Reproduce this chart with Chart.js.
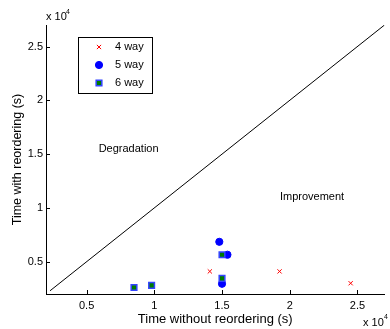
<!DOCTYPE html>
<html>
<head>
<meta charset="utf-8">
<script src="https://cdn.jsdelivr.net/npm/chart.js@4.4.0/dist/chart.umd.min.js"></script>
<style>
  html, body { margin: 0; padding: 0; background: #fff; }
  #wrap { width: 390px; height: 329px; }
</style>
</head>
<body>
<div id="wrap"><canvas id="chart" width="390" height="329"></canvas></div>
<script>
// values (seconds)
const fourWayX = [14100, 19250, 24500];
const fourWayY = [4100, 4100, 3000];
const fiveWayX = [14800, 15400, 15000];
const fiveWayY = [6850, 5650, 2950];
const sixWayX = [8500, 9800, 15000, 15000];
const sixWayY = [2600, 2800, 5650, 3450];
const diagonal = [2300, 27000];
const axisTicks = [5000, 10000, 15000, 20000, 25000];
const axisMin = 2000;
const axisMax = 27000;
const seriesNames = ["4 way", "5 way", "6 way"];

const FONT = "'Liberation Sans', Arial, Helvetica, sans-serif";
Chart.defaults.font.family = FONT;
Chart.defaults.color = "#000";

const toPoints = (xs, ys) => xs.map((x, i) => ({ x, y: ys[i] }));

const styles = [
  { pointStyle: "crossRot", radius: 3, borderColor: "#ff0000", backgroundColor: "#ff0000", borderWidth: 1 },
  { pointStyle: "circle", radius: 3.6, borderColor: "#0000ff", backgroundColor: "#0000ff", borderWidth: 1 },
  { pointStyle: "rect", radius: 4, borderColor: "#3344ff", backgroundColor: "#007a00", borderWidth: 1.5 },
];

const decorations = {
  id: "decorations",
  afterDraw(chart) {
    const { ctx, chartArea: area, scales } = chart;
    const xs = scales.x;
    const ys = scales.y;
    ctx.save();

    // inward tick marks
    ctx.strokeStyle = "#000";
    ctx.lineWidth = 1;
    ctx.beginPath();
    axisTicks.forEach((v) => {
      const px = Math.round(xs.getPixelForValue(v)) + 0.5;
      ctx.moveTo(px, area.bottom);
      ctx.lineTo(px, area.bottom - 4);
      const py = Math.round(ys.getPixelForValue(v)) + 0.5;
      ctx.moveTo(area.left, py);
      ctx.lineTo(area.left + 4, py);
    });
    ctx.stroke();

    // exponent labels
    ctx.fillStyle = "#000";
    ctx.textBaseline = "middle";
    ctx.textAlign = "left";
    ctx.font = "11px " + FONT;
    ctx.fillText("x 10", 46, 17);
    ctx.fillText("x 10", 363, 323);
    ctx.font = "7px " + FONT;
    ctx.fillText("4", 66, 12);
    ctx.fillText("4", 384, 317);

    // region labels
    ctx.font = "11px " + FONT;
    ctx.textAlign = "center";
    ctx.fillText("Degradation", xs.getPixelForValue(8100), ys.getPixelForValue(15450));
    ctx.fillText("Improvement", xs.getPixelForValue(21650), ys.getPixelForValue(11050));

    // legend box
    ctx.fillStyle = "#fff";
    ctx.fillRect(78.5, 37.5, 74, 56);
    ctx.strokeStyle = "#000";
    ctx.lineWidth = 1;
    ctx.strokeRect(78.5, 37.5, 74, 56);
    seriesNames.forEach((name, i) => {
      const y = 47 + i * 18;
      const s = styles[i];
      ctx.fillStyle = s.backgroundColor;
      ctx.strokeStyle = s.borderColor;
      ctx.lineWidth = s.borderWidth;
      Chart.helpers.drawPoint(ctx, { pointStyle: s.pointStyle, radius: s.radius, rotation: 0, borderWidth: s.borderWidth }, 99, y);
      ctx.fillStyle = "#000";
      ctx.textAlign = "left";
      ctx.textBaseline = "middle";
      ctx.font = "11px " + FONT;
      ctx.fillText(name, 115, y);
    });

    ctx.restore();
  },
};

const makeAxis = (titleText, fitSize, isX) => ({
  type: "linear",
  min: axisMin,
  max: axisMax,
  afterBuildTicks: (scale) => {
    scale.ticks = axisTicks.map((v) => ({ value: v }));
  },
  afterFit: (scale) => {
    if (isX) scale.height = fitSize;
    else scale.width = fitSize;
  },
  ticks: {
    callback: (v) => v / 10000,
    color: "#000",
    font: { size: 11 },
    padding: isX ? 5 : 3,
    maxRotation: 0,
    autoSkip: false,
  },
  grid: { display: false, drawTicks: false },
  border: { display: true, color: "#000", width: 1 },
  title: {
    display: true,
    text: titleText,
    color: "#000",
    font: { size: isX ? 13 : 12.5 },
    padding: isX ? { top: 0, bottom: 2 } : { top: 10, bottom: 0 },
  },
});

new Chart(document.getElementById("chart"), {
  type: "scatter",
  data: {
    datasets: [
      { label: seriesNames[2], data: toPoints(sixWayX, sixWayY), order: 0, ...styles[2], pointRadius: styles[2].radius },
      { label: seriesNames[1], data: toPoints(fiveWayX, fiveWayY), order: 1, ...styles[1], pointRadius: styles[1].radius },
      { label: seriesNames[0], data: toPoints(fourWayX, fourWayY), order: 2, ...styles[0], pointRadius: styles[0].radius },
      {
        type: "line",
        label: "y = x",
        data: toPoints(diagonal, diagonal),
        order: 3,
        borderColor: "#000",
        borderWidth: 1,
        pointRadius: 0,
        fill: false,
      },
    ],
  },
  options: {
    responsive: false,
    animation: false,
    layout: { padding: { left: 0, top: 25, right: 2, bottom: 0 } },
    plugins: {
      legend: { display: false },
      tooltip: { enabled: false },
    },
    scales: {
      x: makeAxis("Time without reordering (s)", 35, true),
      y: makeAxis("Time with reordering (s)", 46, false),
    },
  },
  plugins: [decorations],
});
</script>
</body>
</html>
